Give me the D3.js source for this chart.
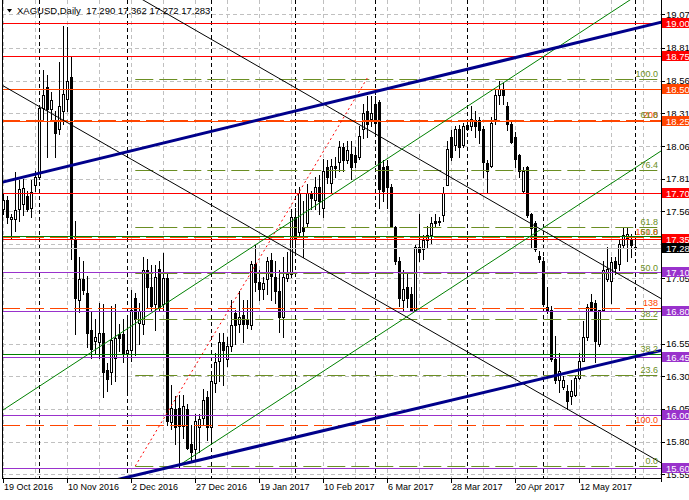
<!DOCTYPE html>
<html><head><meta charset="utf-8">
<script src="https://cdn.jsdelivr.net/npm/d3@7"></script>
<style>body{margin:0;background:#fff;}svg{display:block;font-family:"Liberation Sans",Arial,sans-serif;}</style>
</head><body><svg id="c" width="689" height="500"></svg>
<script>
// ---------------- DATA ----------------
const symbolTitle = "XAGUSD,Daily";
const lastQuote = ["17.290","17.362","17.272","17.283"];
const dateLabels = ["19 Oct 2016","10 Nov 2016","2 Dec 2016","27 Dec 2016","19 Jan 2017","10 Feb 2017","6 Mar 2017","28 Mar 2017","20 Apr 2017","12 May 2017"];
const dateLabelBars = [0,16,32,48,64,80,96,112,128,144];
const monthStartBars = [9,31,52,73,93,116,135,158];
const priceTicks = [19.07,18.81,18.56,18.31,18.06,17.81,17.56,17.31,17.05,16.80,16.55,16.30,16.05,15.80,15.55];

const open = [17.58,17.65,17.50,17.50,17.58,17.62,17.68,17.59,17.76,17.82,
18.35,18.51,18.34,18.26,18.19,18.33,18.42,18.59,17.35,16.88,
17.04,16.94,16.65,16.57,16.56,16.63,16.35,16.33,16.44,16.62,
16.62,16.48,16.50,16.90,16.71,16.70,17.11,16.98,16.85,17.12,
16.85,17.05,15.95,16.05,16.06,15.92,16.05,15.78,15.74,15.91,
15.98,16.14,15.91,16.25,16.42,16.56,16.43,16.53,16.78,16.70,
16.77,16.74,16.69,17.16,17.02,16.97,17.04,17.19,17.06,16.95,
16.75,17.05,17.08,17.52,17.40,17.44,17.47,17.70,17.65,17.75,
17.59,17.90,17.78,17.91,17.94,18.05,17.95,18.00,17.99,17.98,
18.19,18.33,18.27,18.38,18.40,17.90,17.91,17.75,17.44,17.18,
16.88,16.98,16.93,16.81,17.29,17.27,17.34,17.38,17.49,17.48,
17.53,17.76,18.13,18.07,18.19,18.07,18.22,18.21,18.26,18.26,
18.19,17.93,17.91,18.27,18.45,18.49,18.37,18.23,18.13,17.99,
17.72,17.90,17.54,17.47,17.22,17.18,16.83,16.81,16.43,16.27,
16.22,16.19,16.15,16.16,16.29,16.42,16.60,16.87,16.86,16.55,
16.81,17.04,17.03,17.18,17.16,17.30,17.36,17.35,17.290];
const high = [17.70,17.68,17.54,17.86,17.80,17.81,17.72,17.80,17.87,18.36,
18.64,18.60,18.47,18.33,18.70,18.98,18.97,18.74,17.49,17.21,
17.18,17.07,16.79,16.74,16.86,16.85,16.40,16.84,16.85,16.70,
16.74,16.74,16.96,16.94,16.86,17.21,17.20,17.15,17.15,17.18,
17.24,17.10,16.23,16.15,16.16,16.16,16.09,15.93,16.01,16.01,
16.20,16.19,16.30,16.48,16.63,16.63,16.60,16.88,16.81,16.95,
16.88,16.88,17.18,17.30,17.11,17.06,17.21,17.24,17.18,17.11,
17.21,17.25,17.58,17.59,17.75,17.64,17.77,17.72,17.82,17.84,
17.96,17.95,17.96,17.98,18.10,18.08,18.10,18.10,18.05,18.21,
18.38,18.44,18.44,18.44,18.41,17.95,17.95,17.77,17.45,17.21,
17.11,17.08,16.98,17.30,17.54,17.38,17.45,17.52,17.54,17.52,
17.75,18.10,18.18,18.21,18.22,18.24,18.26,18.37,18.33,18.28,
18.21,17.95,18.28,18.49,18.56,18.54,18.40,18.26,18.17,18.00,
17.90,17.91,17.55,17.49,17.26,17.21,16.98,16.84,16.61,16.48,
16.30,16.23,16.27,16.30,16.48,16.72,16.85,16.93,16.88,16.81,
17.18,17.29,17.21,17.21,17.35,17.44,17.44,17.39,17.362];
const low = [17.54,17.47,17.36,17.41,17.49,17.53,17.56,17.52,17.72,17.81,
18.26,17.98,18.26,17.98,18.15,18.23,18.33,17.20,16.62,16.79,
16.93,16.52,16.44,16.47,16.44,16.14,16.19,16.24,16.26,16.49,
16.41,16.16,16.42,16.46,16.55,16.62,16.83,16.80,16.65,16.80,
16.80,15.93,15.90,15.78,15.60,15.83,15.74,15.65,15.66,15.72,
15.93,15.81,15.81,16.18,16.26,16.23,16.38,16.49,16.55,16.64,
16.56,16.67,16.66,16.95,16.88,16.89,16.93,16.88,16.86,16.64,
16.60,17.03,17.06,17.24,17.38,17.21,17.44,17.58,17.58,17.54,
17.52,17.78,17.71,17.82,17.87,17.87,17.93,17.81,17.90,17.96,
18.12,18.13,18.21,18.17,17.59,17.64,17.59,17.44,17.16,16.84,
16.81,16.83,16.80,16.80,17.18,17.20,17.29,17.32,17.44,17.46,
17.49,17.76,17.95,18.03,17.98,18.05,18.18,18.18,18.13,18.08,
17.82,17.71,17.90,18.23,18.38,18.38,18.18,18.08,17.90,17.82,
17.71,17.52,17.29,17.26,17.17,16.84,16.78,16.42,16.25,16.18,
16.20,16.05,16.09,16.15,16.28,16.42,16.58,16.80,16.41,16.53,
16.80,17.03,16.86,17.08,17.11,17.29,17.18,17.21,17.272];
const close = [17.65,17.52,17.52,17.57,17.73,17.74,17.58,17.71,17.82,18.35,
18.45,18.34,18.41,18.16,18.37,18.46,18.56,17.36,16.90,17.04,
16.96,16.63,16.51,16.60,16.63,16.33,16.28,16.58,16.59,16.59,
16.48,16.50,16.81,16.74,16.80,17.11,16.98,16.84,17.06,16.83,
17.05,15.96,16.06,15.91,15.92,16.07,15.75,15.72,15.96,15.97,
16.12,15.91,16.26,16.41,16.56,16.50,16.53,16.69,16.69,16.75,
16.70,16.70,17.16,17.02,16.97,17.01,17.18,17.07,16.95,16.75,
17.06,17.08,17.52,17.36,17.70,17.41,17.70,17.66,17.75,17.64,
17.87,17.82,17.91,17.89,18.05,17.95,18.03,17.90,17.94,18.14,
18.31,18.23,18.31,18.24,17.73,17.72,17.75,17.45,17.18,16.90,
16.97,16.90,16.81,17.29,17.25,17.34,17.38,17.47,17.47,17.49,
17.70,18.04,17.98,18.19,18.05,18.21,18.19,18.27,18.21,18.18,
17.94,17.87,18.24,18.45,18.50,18.45,18.23,18.09,17.96,17.87,
17.87,17.53,17.43,17.27,17.20,16.85,16.80,16.43,16.27,16.34,
16.27,16.11,16.19,16.29,16.42,16.60,16.83,16.81,16.57,16.81,
17.11,17.12,17.17,17.13,17.31,17.38,17.39,17.30,17.283];

const redLevels = [19.00,18.75,17.70,17.35];
const orangeLevels = [18.50,18.25];
const purpleLevels = [17.10,16.80,16.45,16.00,15.60];
const greenLevels = [17.37,16.47];
const currentPrice = 17.283;

// Fibonacci retracement (olive), anchored at bar 33
const fibStartBar = 33;
const fibLevelNames = ["100.0","76.4","61.8","50.0","38.2","23.6","0.0"];
const fibLevelPrices = [18.575,17.876,17.444,17.093,16.741,16.309,15.610];
// Fibonacci expansion (orange)
const expLevelNames = ["200","161.8","138","100.0"];
const expLevelPrices = [18.259,17.368,16.818,15.927];
// second set of level captions
const extraFibNames = ["61.8","50.0","38.2"];
const extraFibPrices = [18.259,17.368,16.470];

// trend lines: [[bar, price],[bar, price]]
const navyUpper = [[0,17.786],[160,18.974]];
const navyLower = [[32,15.535],[160,16.465]];
const blackA = [[0,18.520],[160,15.716]];
const blackB = [[40,19.088],[160,16.972]];
const greenA = [[0,16.043],[150,19.044]];
const greenB = [[44,15.620],[160,17.934]];
const redDotted = [[33,15.613],[91,18.581]];

// ---------------- CHART ----------------
const plot = {l:2, r:661, t:0, b:478};
const x = d3.scaleLinear().domain([0,158]).range([3.3,635.3]);
const y = d3.scaleLinear().domain([15.55,19.07]).range([474.3,14]);
const cp = v => Math.round(v)+0.5;

const svg = d3.select('#c');
svg.append('rect').attr('width',689).attr('height',500).attr('fill','#fff');
svg.append('defs').append('clipPath').attr('id','pc')
  .append('rect').attr('x',plot.l).attr('y',plot.t).attr('width',plot.r-plot.l).attr('height',plot.b-plot.t);
const g = svg.append('g').attr('clip-path','url(#pc)');

// grid
g.append('g').selectAll('line').data(priceTicks).join('line')
  .attr('x1',plot.l).attr('x2',plot.r).attr('y1',d=>cp(y(d))).attr('y2',d=>cp(y(d)))
  .attr('stroke','#c0c0c0').attr('stroke-dasharray','4,3');
g.append('g').selectAll('line').data(d3.range(0,161,8)).join('line')
  .attr('x1',d=>cp(x(d))).attr('x2',d=>cp(x(d))).attr('y1',plot.t).attr('y2',plot.b)
  .attr('stroke','#c0c0c0').attr('stroke-dasharray','4,3');
// period separators
g.append('g').selectAll('line').data(monthStartBars).join('line')
  .attr('x1',d=>cp(x(d))).attr('x2',d=>cp(x(d))).attr('y1',plot.t).attr('y2',plot.b)
  .attr('stroke','#000').attr('stroke-dasharray','4,3');

// candles
const bars = open.map((o,i)=>({i,o,h:high[i],l:low[i],c:close[i]}));
const cg = g.append('g');
cg.selectAll('line').data(bars).join('line')
  .attr('x1',d=>Math.round(x(d.i))+0.5).attr('x2',d=>Math.round(x(d.i))+0.5)
  .attr('y1',d=>Math.round(y(d.h))).attr('y2',d=>Math.round(y(d.l))+1)
  .attr('stroke','#000');
cg.selectAll('rect').data(bars).join('rect')
  .each(function(d){
    const cx = Math.round(x(d.i));
    const top = Math.round(y(Math.max(d.o,d.c))), bot = Math.round(y(Math.min(d.o,d.c)));
    const s = d3.select(this);
    if (d.c >= d.o) {
      s.attr('x',cx-0.5).attr('y',top+0.5).attr('width',2).attr('height',Math.max(bot-top,1))
       .attr('fill','#fff').attr('stroke','#000');
    } else {
      s.attr('x',cx-1).attr('y',top).attr('width',3).attr('height',Math.max(bot-top+1,1)).attr('fill','#000');
    }
  });

// horizontal levels
function hlines(vals,color,x0,dash,w){
  const sel = g.append('g').selectAll('line').data(vals).join('line')
    .attr('x1',x0).attr('x2',plot.r).attr('y1',d=>cp(y(d))).attr('y2',d=>cp(y(d)))
    .attr('stroke',color).attr('stroke-width',w||1);
  if (dash) sel.attr('stroke-dasharray',dash);
}
hlines([currentPrice],'#c0c0c0',plot.l);
hlines(expLevelPrices,'#FF4500',plot.l,'18,6');
hlines(fibLevelPrices,'#6B8E23',x(fibStartBar),'18,6');
hlines(greenLevels,'#008000',plot.l);
hlines(redLevels,'#FF0000',plot.l);
hlines(orangeLevels,'#FF4500',plot.l);
hlines(purpleLevels,'#9932CC',plot.l);

// trend lines
function tline(pts,color,w,opts){
  opts = opts||{};
  const [a,b] = pts;
  const slope = (b[1]-a[1])/(b[0]-a[0]);
  const i0 = opts.seg ? a[0] : (opts.rayRight ? a[0] : -5);
  const i1 = opts.seg ? b[0] : 170;
  const p = i => a[1] + slope*(i-a[0]);
  const l = g.append('line').attr('x1',x(i0)).attr('y1',y(p(i0))).attr('x2',x(i1)).attr('y2',y(p(i1)))
    .attr('stroke',color).attr('stroke-width',w);
  if (opts.dash) l.attr('stroke-dasharray',opts.dash);
}
tline(blackA,'#000',1);
tline(blackB,'#000',1);
tline(greenA,'#008000',1);
tline(greenB,'#008000',1,{rayRight:true});
tline(redDotted,'#FF0000',1,{seg:true,dash:'2,3'});
tline(navyUpper,'#00008B',3);
tline(navyLower,'#00008B',3);

// fib captions
const capG = svg.append('g').attr('font-size',9).attr('text-anchor','end');
capG.selectAll('.f').data(fibLevelNames).join('text')
  .attr('x',658).attr('y',(d,k)=>y(fibLevelPrices[k])-2).attr('fill','#6B8E23').text(d=>d);
capG.selectAll('.e').data(expLevelNames).join('text')
  .attr('x',658).attr('y',(d,k)=>y(expLevelPrices[k])-2).attr('fill','#FF4500').text(d=>d);
capG.selectAll('.x').data(extraFibNames).join('text')
  .attr('x',658).attr('y',(d,k)=>y(extraFibPrices[k])-2).attr('fill','#6B8E23').text(d=>d);

// axes frame
svg.append('line').attr('x1',2.5).attr('x2',2.5).attr('y1',0).attr('y2',plot.b).attr('stroke','#000');
svg.append('line').attr('x1',plot.r+0.5).attr('x2',plot.r+0.5).attr('y1',0).attr('y2',plot.b+4).attr('stroke','#000');
svg.append('line').attr('x1',plot.l).attr('x2',plot.r+1).attr('y1',plot.b+0.5).attr('y2',plot.b+0.5).attr('stroke','#000');

// right price axis (tick labels hidden behind a coloured box are not drawn)
const boxed = redLevels.concat(orangeLevels, purpleLevels, [currentPrice]);
const visibleTicks = priceTicks.filter(t => !boxed.some(b => Math.abs(y(b)-y(t)) < 4.5));
const ra = svg.append('g').attr('font-size',9.5);
ra.selectAll('line').data(priceTicks).join('line')
  .attr('x1',plot.r).attr('x2',plot.r+4).attr('y1',d=>cp(y(d))).attr('y2',d=>cp(y(d))).attr('stroke','#000');
ra.selectAll('text').data(visibleTicks).join('text')
  .attr('x',666).attr('y',d=>y(d)+3.5).attr('fill','#000').text(d=>d.toFixed(2));

// coloured price boxes
function boxes(vals,color){
  const bg = svg.append('g');
  bg.selectAll('rect').data(vals).join('rect')
    .attr('x',plot.r+1).attr('y',d=>Math.round(y(d))-5).attr('width',30).attr('height',10).attr('fill',color);
  bg.selectAll('text').data(vals).join('text')
    .attr('x',666).attr('y',d=>Math.round(y(d))+3.5).attr('font-size',9.5).attr('fill','#fff').text(d=>d.toFixed(2));
}
boxes(redLevels,'#FF0000');
boxes(orangeLevels,'#FF4500');
boxes(purpleLevels,'#9932CC');
boxes([currentPrice],'#000');

// bottom time axis
const ta = svg.append('g').attr('font-size',9);
ta.selectAll('line').data(dateLabelBars).join('line')
  .attr('x1',d=>cp(x(d))).attr('x2',d=>cp(x(d))).attr('y1',plot.b).attr('y2',plot.b+5).attr('stroke','#000');
ta.selectAll('text').data(dateLabels).join('text')
  .attr('x',(d,k)=>Math.round(x(dateLabelBars[k]))+1).attr('y',490).attr('fill','#000').text(d=>d);

// header
svg.append('path').attr('d','M7,9 L12,9 L9.5,12.5 Z').attr('fill','#000');
svg.append('text').attr('x',17).attr('y',14).attr('font-size',9.5).attr('fill','#000')
  .text(symbolTitle + "\u00a0\u00a0" + lastQuote.join(" "));
</script>
</body></html>
